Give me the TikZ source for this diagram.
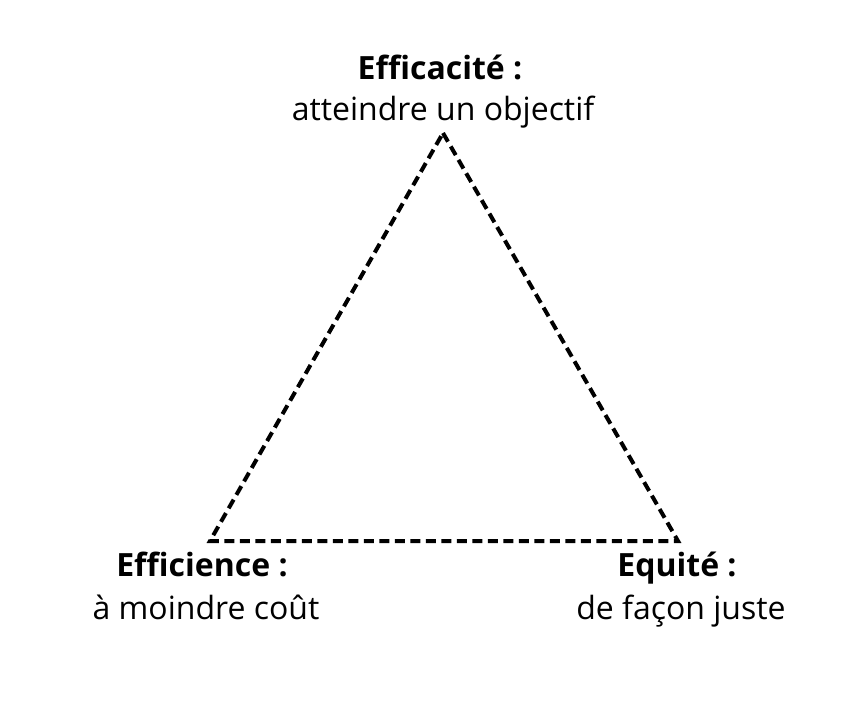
\documentclass[tikz,border=0pt]{standalone}
\usepackage{fontspec}
\setmainfont{Open Sans}
\begin{document}
\begin{tikzpicture}[x=1pt,y=-1pt,
  lbl/.style={anchor=base,inner sep=0pt,font=\fontsize{32}{38}\selectfont},
  lblb/.style={lbl,font=\fontsize{32}{38}\selectfont\bfseries},
  edge/.style={line width=4pt,dash pattern=on 10pt off 5.5pt,line join=miter}]
\useasboundingbox (0,0) rectangle (868,710);
\coordinate (T) at (443,133);
\coordinate (L) at (210,541);
\coordinate (R) at (678,541);
\draw[edge] (T) -- (R) -- (L) -- cycle;
\node[lblb] (t1) at (440,79) {Efficacité :};
\node[lbl] (t2) at (443,120) {atteindre un objectif};
\node[lblb] (l1) at (202,576) {Efficience :};
\node[lbl] (l2) at (206,619) {à moindre coût};
\node[lblb] (r1) at (677,576) {Equité :};
\node[lbl] (r2) at (681,619) {de façon juste};
\end{tikzpicture}
\end{document}
